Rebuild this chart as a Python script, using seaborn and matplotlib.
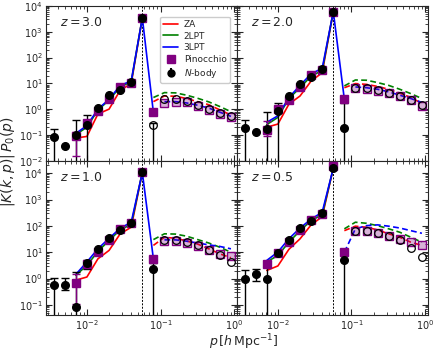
import numpy as np
import pandas as pd
import matplotlib
matplotlib.use("Agg")
import matplotlib.pyplot as plt
import seaborn as sns

# wavenumber grid of the measured points
p_all = [3.54e-3, 5.0e-3, 7.07e-3, 0.01, 0.0141, 0.02, 0.0283, 0.04, 0.0566,
         0.08, 0.113, 0.16, 0.226, 0.32, 0.453, 0.64, 0.905]
p_model = p_all[2:]
k_peak = 0.0566
redshifts = ["3.0", "2.0", "1.0", "0.5"]

# log10 |K P0|, one list per panel
log_nbody = [
    [-1.09, -1.44, -1.00, -0.62, 0.04, 0.54, 0.74, 1.05, 3.54, -0.62, 0.38, 0.38, 0.31, 0.17, 0.00, -0.14, -0.28],
    [-0.73, -0.90, -0.77, -0.09, 0.50, 0.99, 1.24, 1.54, 3.78, -0.74, 0.83, 0.83, 0.74, 0.64, 0.51, 0.37, 0.15],
    [-0.25, -0.23, -1.09, 0.59, 1.11, 1.56, 1.84, 2.10, 4.03, 0.38, 1.45, 1.45, 1.38, 1.26, 1.07, 0.88, 0.63],
    [0.00, 0.19, 0.00, 0.98, 1.48, 1.92, 2.20, 2.48, 4.19, 0.72, 1.82, 1.82, 1.74, 1.61, 1.45, 1.16, 0.82],
]
# upper / lower ends of the N-body error bars (nan = no bar, -5 = off the axis)
log_nb_up = [
    [-0.79, np.nan, -0.42, -0.22, np.nan, np.nan, np.nan, np.nan, np.nan, -0.55] + [np.nan] * 7,
    [-0.42, np.nan, -0.10, 0.22, np.nan, np.nan, np.nan, np.nan, np.nan, 0.22] + [np.nan] * 7,
    [0.04, 0.04, 0.25, 0.72, np.nan, np.nan, np.nan, np.nan, np.nan, 0.60] + [np.nan] * 7,
    [0.31, 0.35, 0.57, np.nan, np.nan, np.nan, np.nan, np.nan, np.nan, 1.00] + [np.nan] * 7,
]
log_nb_lo = [
    [-5, np.nan, -5, -5, np.nan, np.nan, np.nan, np.nan, np.nan, -5] + [np.nan] * 7,
    [-5, np.nan, -5, -5, np.nan, np.nan, np.nan, np.nan, np.nan, -5] + [np.nan] * 7,
    [-5, -0.42, -5, 0.35, np.nan, np.nan, np.nan, np.nan, np.nan, -5] + [np.nan] * 7,
    [-5, -0.10, -5, np.nan, np.nan, np.nan, np.nan, np.nan, np.nan, -5] + [np.nan] * 7,
]
nbody_open = [
    [False] * 9 + [True] * 8,
    [False] * 10 + [True] * 7,
    [False] * 10 + [True] * 7,
    [False] * 10 + [True] * 7,
]

log_pino = [
    [-1.03, -0.55, -0.06, 0.41, 0.86, 1.03, 3.54, -0.13, 0.24, 0.28, 0.26, 0.14, -0.04, -0.18, -0.31],
    [-0.81, -0.01, 0.37, 0.86, 1.31, 1.51, 3.78, 0.38, 0.81, 0.79, 0.72, 0.62, 0.49, 0.35, 0.13],
    [-0.15, 0.54, 1.01, 1.47, 1.89, 2.10, 4.03, 0.75, 1.42, 1.41, 1.36, 1.23, 1.09, 0.94, 0.84],
    [0.57, 0.98, 1.38, 1.85, 2.24, 2.45, 4.28, 1.00, 1.80, 1.80, 1.74, 1.61, 1.51, 1.38, 1.28],
]
log_pino_up = [-0.90, -0.45, 0.19, 0.65]
log_pino_lo = [-1.80, -1.06, -0.98, 0.49]

log_za = [
    [-1.12, -1.06, -0.19, 0.00, 0.73, 0.99, 3.54, 0.29, 0.51, 0.50, 0.41, 0.29, 0.17, -0.03, -0.23],
    [-0.70, -0.58, 0.19, 0.51, 1.09, 1.41, 3.78, 0.83, 0.99, 0.96, 0.88, 0.77, 0.62, 0.45, 0.22],
    [-0.06, 0.06, 0.75, 1.07, 1.70, 1.95, 4.03, 1.26, 1.57, 1.53, 1.43, 1.31, 1.13, 0.94, 0.79],
    [0.31, 0.48, 1.11, 1.51, 2.04, 2.35, 4.19, 1.82, 1.99, 1.95, 1.85, 1.70, 1.57, 1.38, 1.26],
]
log_2lpt = [
    [-0.99, -0.70, -0.04, 0.35, 0.86, 1.06, 3.54, 0.45, 0.64, 0.63, 0.54, 0.42, 0.28, 0.10, -0.10],
    [-0.60, -0.32, 0.41, 0.83, 1.28, 1.50, 3.78, 0.90, 1.13, 1.12, 1.03, 0.92, 0.77, 0.60, 0.41],
    [0.13, 0.50, 1.03, 1.45, 1.85, 2.06, 4.03, 1.48, 1.70, 1.69, 1.61, 1.48, 1.35, 1.19, 1.00],
    [0.63, 0.88, 1.38, 1.82, 2.20, 2.43, 4.19, 1.89, 2.14, 2.10, 2.01, 1.89, 1.76, 1.57, 1.38],
]
log_3lpt = [
    [-0.94, -0.64, 0.00, 0.38, 0.92, 1.09, 3.54, -0.13, 0.29, 0.29, 0.24, 0.15, 0.04, -0.12, -0.28],
    [-0.51, -0.26, 0.45, 0.92, 1.37, 1.58, 3.78, 0.38, 0.86, 0.83, 0.77, 0.67, 0.54, 0.41, 0.26],
    [0.16, 0.63, 1.13, 1.53, 1.91, 2.14, 4.03, 0.75, 1.47, 1.47, 1.42, 1.35, 1.28, 1.22, 1.13],
    [0.69, 1.01, 1.51, 1.92, 2.26, 2.52, 4.19, 1.00, 1.89, 2.01, 2.04, 1.99, 1.92, 1.82, 1.72],
]
# index in p_model where the kernel turns negative (dashed from there on)
neg_start_za = [7, 7, 7, 7]
neg_start_2lpt = [7, 7, 7, 7]
neg_start_3lpt = [8, 8, 8, 7]

models = [("ZA", log_za, neg_start_za, "red"),
          ("2LPT", log_2lpt, neg_start_2lpt, "green"),
          ("3LPT", log_3lpt, neg_start_3lpt, "blue")]

sns.set_style("ticks")
plt.rcParams.update({
    "xtick.direction": "in", "ytick.direction": "in",
    "xtick.top": True, "ytick.right": True,
    "xtick.minor.visible": True, "ytick.minor.visible": True,
    "xtick.labelsize": 7, "ytick.labelsize": 7,
    "xtick.major.pad": 2, "ytick.major.pad": 2.5,
    "mathtext.fontset": "dejavusans",
})
plt.rcParams["font.family"] = ["DejaVu Sans"]

fig, axes = plt.subplots(2, 2, figsize=(4.36, 3.52), dpi=100)
fig.subplots_adjust(left=0.106, right=0.982, top=0.983, bottom=0.104,
                    wspace=0, hspace=0)

pino_c = "purple"
for i, ax in enumerate(axes.flat):
    ax.set_xscale("log")
    ax.set_yscale("log")
    ax.axvline(k_peak, color="k", ls="--", lw=0.7, dashes=(2, 1.5))

    for name, vals, ns, c in models:
        v = 10 ** np.array(vals[i])
        n = ns[i]
        solid = pd.DataFrame({"p": p_model[:n], "v": v[:n]})
        dashed = pd.DataFrame({"p": p_model[n:], "v": v[n:]})
        sns.lineplot(data=solid, x="p", y="v", color=c, lw=1.2, ax=ax,
                     label=name if i == 0 else None, legend=False)
        sns.lineplot(data=dashed, x="p", y="v", color=c, lw=1.2, ax=ax,
                     legend=False).lines[-1].set_dashes((3.5, 2))

    # Pinocchio
    pv = 10 ** np.array(log_pino[i])
    pp = np.array(p_model)
    after = pp > 0.1
    ax.errorbar(pp[0], pv[0],
                yerr=[[pv[0] - 10 ** log_pino_lo[i]], [10 ** log_pino_up[i] - pv[0]]],
                fmt="none", ecolor=pino_c, elinewidth=1, capsize=3, zorder=4)
    ax.plot(pp[~after], pv[~after], "s", color=pino_c, ms=5.5, mec=pino_c, zorder=5,
            label="Pinocchio" if i == 0 else None)
    ax.plot(pp[after], pv[after], "s", mfc=(0.5, 0, 0.5, 0.3), mec=pino_c,
            ms=5.5, mew=1, zorder=5)

    # N-body
    nv = 10 ** np.array(log_nbody[i])
    npos = np.array(p_all)
    up = np.array(log_nb_up[i])
    lo = np.array(log_nb_lo[i])
    has = ~np.isnan(up)
    ax.errorbar(npos[has], nv[has],
                yerr=[nv[has] - 10 ** lo[has], 10 ** up[has] - nv[has]],
                fmt="none", ecolor="k", elinewidth=1, capsize=3, zorder=3)
    op = np.array(nbody_open[i])
    ax.plot(npos[~op], nv[~op], "o", color="k", ms=5.5, zorder=6)
    ax.plot(npos[op], nv[op], "o", mfc="none", mec="k", ms=5.5, mew=0.9, zorder=6)

    ax.text(0.07, 0.87, f"$z = {redshifts[i]}$", transform=ax.transAxes, fontsize=9)
    ax.set_xlim(2.8e-3, 1.1)
    ax.set_xlabel("")
    ax.set_ylabel("")
    ax.tick_params(which="major", length=4, width=0.8)
    ax.tick_params(which="minor", length=2, width=0.6)

for ax in axes[0]:
    ax.set_ylim(1e-2, 1e4)
for ax in axes[1]:
    ax.set_ylim(4e-2, 3e4)
for ax in axes[:, 1]:
    ax.tick_params(labelleft=False)
for ax in axes[0]:
    ax.tick_params(labelbottom=False)

# legend with N-body entry drawn as errorbar marker
h, l = axes[0, 0].get_legend_handles_labels()
nb_handle = axes[0, 0].errorbar([], [], yerr=[], fmt="o", color="k", ms=5, capsize=2.5)
h.append(nb_handle)
l.append("$N$-body")
axes[0, 0].legend(h, l, loc="upper right", fontsize=6.5, frameon=True,
                  framealpha=1, edgecolor="0.8", handlelength=1.7,
                  handletextpad=0.6, borderpad=0.35, labelspacing=0.3,
                  numpoints=1, bbox_to_anchor=(0.985, 0.96))

fig.text(0.018, 0.54, "$|K(k,p)|\\,P_0(p)$", rotation=90, va="center", ha="center",
         fontsize=10)
fig.text(0.56, 0.016, "$p\\,[h\\,\\mathrm{Mpc}^{-1}]$", ha="center", va="baseline",
         fontsize=9)

fig.savefig("out.png", dpi=100)
